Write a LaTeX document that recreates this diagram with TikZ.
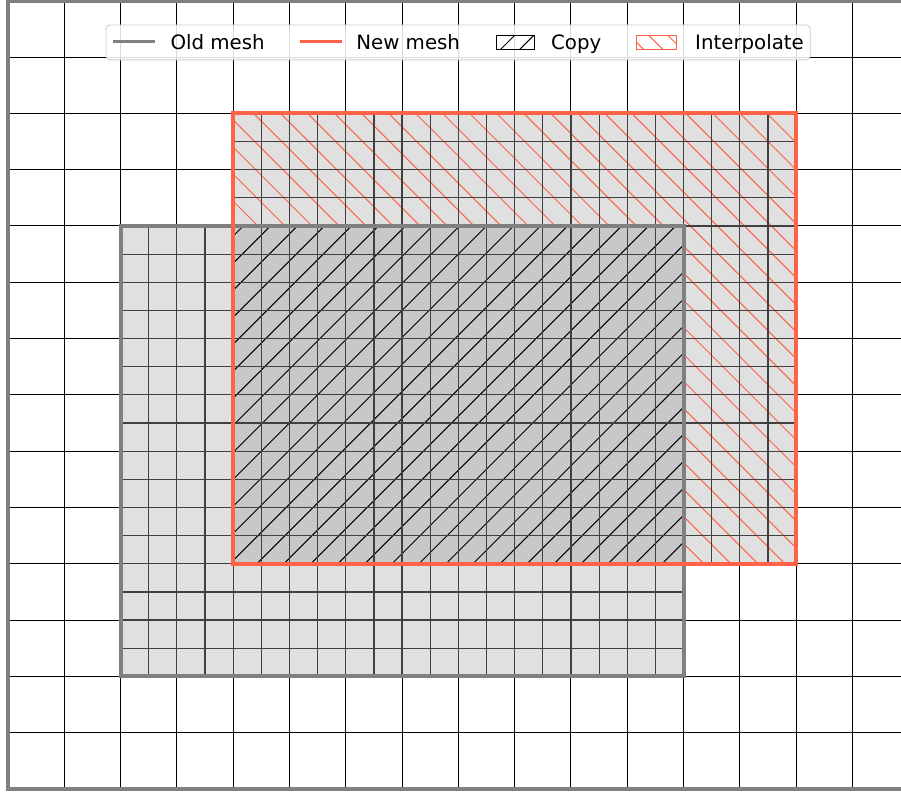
\documentclass[tikz,border=0pt]{standalone}
\usepackage{fontspec}
\setmainfont{DejaVu Sans}
\definecolor{oldgray}{HTML}{808080}
\definecolor{newred}{HTML}{FF6347}
\definecolor{meshfill}{HTML}{E0E0E0}
\definecolor{copyfill}{HTML}{C8C8C8}
\begin{document}
\begin{tikzpicture}[every node/.style={font=\fontsize{10}{12}\selectfont,anchor=base west,inner sep=0pt},
  coarse/.style={black,line width=0.5pt},
  fine/.style={black!75,line width=0.6pt},
  hatchline/.style={line width=0.5pt},
  meshedge/.style={line width=2pt}]
\useasboundingbox (-0.142,-0.089) rectangle (15.862,14.014);
\draw[coarse] (0,0) grid (16,14);
% fills
\fill[meshfill] (2,2) rectangle (12,10);
\fill[meshfill] (4,4) rectangle (14,12);
\fill[copyfill] (4,4) rectangle (12,10);
% copy hatch
\begin{scope}
\clip (4,4) rectangle (12,10);
\foreach \c in {-6.3,-5.82,...,8.2} \draw[hatchline,black] (\c,0) -- ++(14,14);
\end{scope}
% interpolate hatch
\begin{scope}
\clip (4,10) rectangle (14,12) (12,4) rectangle (14,10);
\foreach \c in {8.2,8.68,...,26.2} \draw[hatchline,newred] (\c,0) -- ++(-14,14);
\end{scope}
% mesh grids
\draw[fine,step=0.5] (2,2) grid (12,10);
\draw[fine,step=0.5] (4,4) grid (14,12);
\draw[meshedge,oldgray] (2,2) rectangle (12,10);
\draw[meshedge,newred] (4,4) rectangle (14,12);
\draw[meshedge,oldgray] (0,0) rectangle (16,14);
% legend
\draw[black!20,fill=white,fill opacity=0.85,rounded corners=2pt] (1.74,12.95) rectangle (14.25,13.57);
\draw[oldgray,line width=1.4pt] (1.865,13.27) -- (2.61,13.27);
\node (oldlbl) at (2.88,13.14) {Old mesh};
\draw[newred,line width=1.4pt] (5.19,13.27) -- (5.93,13.27);
\node (newlbl) at (6.18,13.14) {New mesh};
\begin{scope}
\clip (8.67,13.126) rectangle (9.36,13.375);
\foreach \c in {8.4,8.74,...,9.5} \draw[hatchline,black] (\c,13.126) -- ++(0.4,0.4);
\end{scope}
\draw[black,line width=0.5pt] (8.67,13.126) rectangle (9.36,13.375);
\node (copylbl) at (9.64,13.14) {Copy};
\begin{scope}
\clip (11.17,13.126) rectangle (11.88,13.375);
\foreach \c in {11.3,11.64,...,12.4} \draw[hatchline,newred] (\c,13.126) -- ++(-0.4,0.4);
\end{scope}
\draw[newred,line width=0.5pt] (11.17,13.126) rectangle (11.88,13.375);
\node (interplbl) at (12.2,13.14) {Interpolate};
\end{tikzpicture}
\end{document}
